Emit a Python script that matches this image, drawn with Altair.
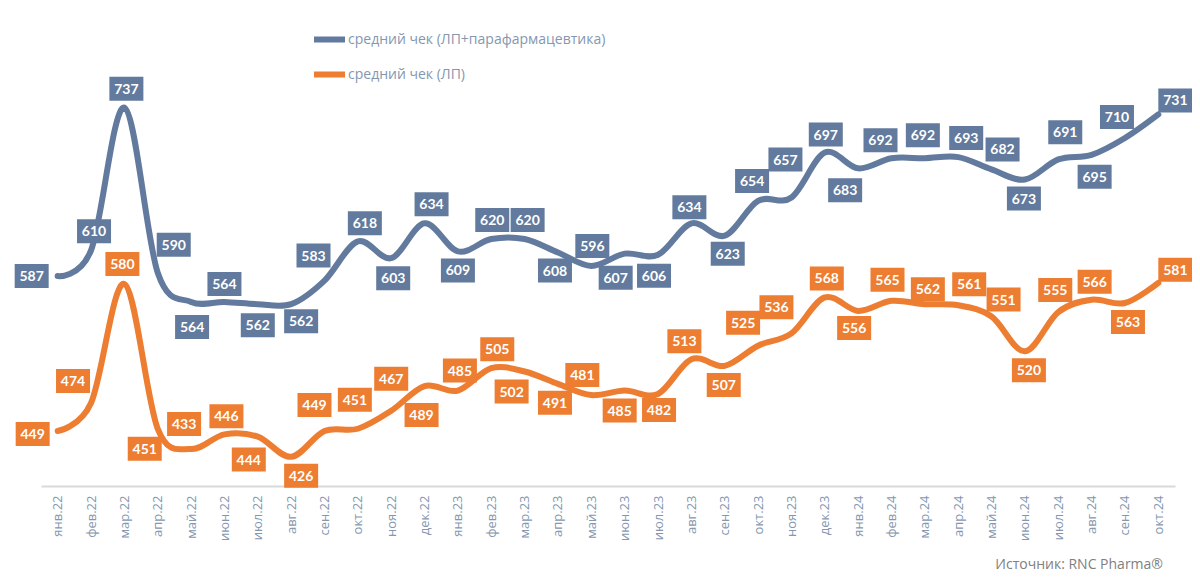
import altair as alt
import pandas as pd

months = ["янв.22", "фев.22", "мар.22", "апр.22", "май.22", "июн.22", "июл.22", "авг.22",
          "сен.22", "окт.22", "ноя.22", "дек.22", "янв.23", "фев.23", "мар.23", "апр.23",
          "май.23", "июн.23", "июл.23", "авг.23", "сен.23", "окт.23", "ноя.23", "дек.23",
          "янв.24", "фев.24", "мар.24", "апр.24", "май.24", "июн.24", "июл.24", "авг.24",
          "сен.24", "окт.24"]

check_total = [587, 610, 737, 590, 564, 564, 562, 562, 583, 618, 603, 634, 609, 620, 620, 608,
               596, 607, 606, 634, 623, 654, 657, 697, 683, 692, 692, 693, 682, 673, 691, 695,
               710, 731]

check_drugs = [449, 474, 580, 451, 433, 446, 444, 426, 449, 451, 467, 489, 485, 505, 502, 491,
               481, 485, 482, 513, 507, 525, 536, 568, 556, 565, 562, 561, 551, 520, 555, 566,
               563, 581]

series_names = ["средний чек (ЛП+парафармацевтика)", "средний чек (ЛП)"]
series_colors = ["#627A9D", "#ED7D31"]

# label placement offsets in pixels relative to the point (dx right, dy down)
label_dx_total = [-26, 3, 2, 16, 1, 0, 0, 10, -11, 7, 2, 7, 0, 1, 3, -3, 1, -9, -4, -2, 3, -6,
                  -6, 1, -13, -11, -2, 8, 11, -1, 7, 3, -8, 17]
label_dy_total = [0, -19, -19, -28, 25, -18, 21, 17, -25, -18, 20, -19, 19, -19, -19, 18, -20,
                  24, 21, -16, 18, -20, -38, -18, 22, -18, -23, -19, -20, 19, -27, 22, -21, -14]
label_dx_drugs = [-25, -18, -2, -13, -7, 2, -9, 10, -10, -3, 0, -3, 2, 6, -13, -3, -9, -5, 1,
                  -7, -1, -15, -15, 2, -4, -4, 3, 11, 12, 4, -3, 3, 3, 17]
label_dy_drugs = [3, -22, -20, 20, -25, -18, 23, 19, -26, -29, -32, 29, -20, -19, 20, 19, -20,
                  20, 16, -18, 19, -23, -26, -19, 17, -21, -15, -21, -17, 19, -22, -18, 19, -13]

W, H = 1134, 449
Y_DOMAIN = [400, 800]
X_DOMAIN = [-0.5, len(months) - 0.5]

rows = []
for name, vals, ldx, ldy in [(series_names[0], check_total, label_dx_total, label_dy_total),
                             (series_names[1], check_drugs, label_dx_drugs, label_dy_drugs)]:
    for i, v in enumerate(vals):
        rows.append({"idx": i, "series": name, "value": v, "dx": ldx[i], "dy": ldy[i]})
df = pd.DataFrame(rows)

px_per_x = W / (X_DOMAIN[1] - X_DOMAIN[0])
px_per_y = H / (Y_DOMAIN[1] - Y_DOMAIN[0])

month_expr = "[" + ",".join("'" + m + "'" for m in months) + "][datum.value]"

color_scale = alt.Scale(domain=series_names, range=series_colors)
color = alt.Color(
    "series:N",
    scale=color_scale,
    legend=alt.Legend(
        title=None, orient="none", legendX=270, legendY=-16, direction="vertical",
        symbolType="stroke", symbolStrokeWidth=6, symbolSize=961, rowPadding=4,
        labelFont="Open Sans", labelFontSize=14, labelColor="#8497B0", labelOffset=0,
        labelLimit=0, padding=0,
    ),
)

x_axis = alt.Axis(values=list(range(len(months))), labelExpr=month_expr, labelAngle=-90,
                  labelFont="Open Sans", labelFontSize=13, labelColor="#8497B0",
                  labelPadding=9, ticks=False, grid=False, domainColor="#D9D9D9",
                  domainWidth=2, labelAlign="right", labelBaseline="middle", title=None)
x_scale = alt.Scale(domain=X_DOMAIN, nice=False, zero=False)
y_scale = alt.Scale(domain=Y_DOMAIN)

x = alt.X("idx:Q", title=None, scale=x_scale, axis=x_axis)
y = alt.Y("value:Q", scale=y_scale, axis=None)
lx = alt.X("lx:Q", title=None, scale=x_scale, axis=x_axis)
ly = alt.Y("ly:Q", scale=y_scale, axis=None)

base = alt.Chart(df)

lines = base.mark_line(interpolate="cardinal", strokeWidth=6, strokeCap="round",
                       strokeJoin="round").encode(x=x, y=y, color=color,
                                                  detail="series:N")

lab = base.transform_calculate(
    lx=f"datum.idx + datum.dx / {px_per_x}",
    ly=f"datum.value - datum.dy / {px_per_y}",
)

box_shape = "M-1.4167,-1H1.4167V1H-1.4167Z"
boxes = lab.mark_point(shape=box_shape, filled=True, size=576, opacity=1).encode(
    x=lx, y=ly,
    color=alt.Color("series:N", scale=color_scale, legend=None),
)

labels = lab.mark_text(color="white", font="Lato", fontSize=14, fontWeight="bold",
                       baseline="middle", align="center", dy=1).encode(
    x=lx, y=ly,
    text="value:Q",
)

chart = alt.layer(lines, boxes, labels).properties(
    width=W, height=H,
    padding={"left": 33, "top": 29, "right": 17, "bottom": 90},
    autosize=alt.AutoSizeParams(type="none"),
    title=alt.TitleParams("Источник: RNC Pharma®", orient="bottom", anchor="end",
                          frame="group", color="#808080", fontSize=14,
                          fontWeight="normal", font="Open Sans", offset=17, dx=-12),
).configure_view(stroke=None)

chart.save("out.html", embed_options={"renderer": "svg", "actions": False})
